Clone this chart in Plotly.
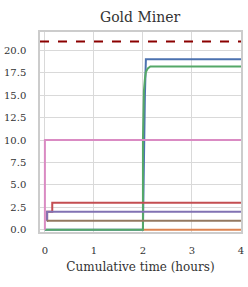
import plotly.graph_objects as go

# ---- data ----
blue_t = [0, 2.0, 2.04, 2.05, 2.06, 4]
blue_v = [0, 0, 15, 17, 19, 19]
orange_t = [2.0, 4]
orange_v = [0, 0]
green_t = [0, 2.0, 2.0, 2.01, 2.02, 2.04, 2.06, 2.1, 2.15, 4]
green_v = [0, 0, 10, 14, 15.5, 16.8, 17.6, 18.0, 18.2, 18.2]
red_t = [0.04, 0.045, 0.15, 4]
red_v = [1, 2, 3, 3]
purple_t = [0.04, 0.045, 4]
purple_v = [1, 2, 2]
brown_t = [0.04, 4]
brown_v = [1, 1]
pink_t = [0, 0, 4]
pink_v = [0, 10, 10]
target = 21

x_ticks = [0, 1, 2, 3, 4]
y_ticks = [0, 2.5, 5, 7.5, 10, 12.5, 15, 17.5, 20]
y_tick_labels = ["0.0", "2.5", "5.0", "7.5", "10.0", "12.5", "15.0", "17.5", "20.0"]

FONT = "DejaVu Serif"
fig = go.Figure()

def add(t, v, color, shape="linear"):
    fig.add_trace(go.Scatter(x=t, y=v, mode="lines", line=dict(color=color, width=2, shape=shape),
                             showlegend=False, hoverinfo="skip", cliponaxis=True))

add(blue_t, blue_v, "#4C72B0")
add(orange_t, orange_v, "#DD8452")
add(green_t, green_v, "#55A868")
add(red_t, red_v, "#C44E52", "hv")
add(purple_t, purple_v, "#8172B3", "hv")
add(brown_t, brown_v, "#937860", "hv")
add(pink_t, pink_v, "#DA8BC3")

fig.add_hline(y=target, line=dict(color="#8B0000", width=2, dash="dash"))

fig.update_layout(
    width=248, height=287,
    margin=dict(l=40, r=7, t=32, b=55, autoexpand=False),
    paper_bgcolor="white", plot_bgcolor="white",
    font=dict(family=FONT, size=10, color="#333333"),
    title=dict(text="Gold Miner", x=0.565, xanchor="center", y=0.94, yanchor="middle",
               font=dict(family=FONT, size=14, color="#333333")),
)
fig.update_xaxes(range=[-0.1, 4.0005], tickvals=x_ticks, ticktext=[str(v) for v in x_ticks],
                 showgrid=True, gridcolor="#d9d9d9", gridwidth=1, zeroline=False,
                 showline=True, linecolor="#cccccc", linewidth=1.5, mirror=True,
                 ticks="", ticklabelstandoff=8, ticklabeloverflow="allow", automargin=False,
                 title=dict(text="Cumulative time (hours)", font=dict(family=FONT, size=12), standoff=8))
fig.update_yaxes(range=[-0.25, 22.05], tickvals=y_ticks, ticktext=y_tick_labels,
                 showgrid=True, gridcolor="#d9d9d9", gridwidth=1, zeroline=False,
                 showline=True, linecolor="#cccccc", linewidth=1.5, mirror=True,
                 ticks="", ticklabelstandoff=10, automargin=False)

fig.write_html("out.html", config={"displayModeBar": False},
               post_script="document.body.style.margin='0';document.body.style.overflow='hidden';")
